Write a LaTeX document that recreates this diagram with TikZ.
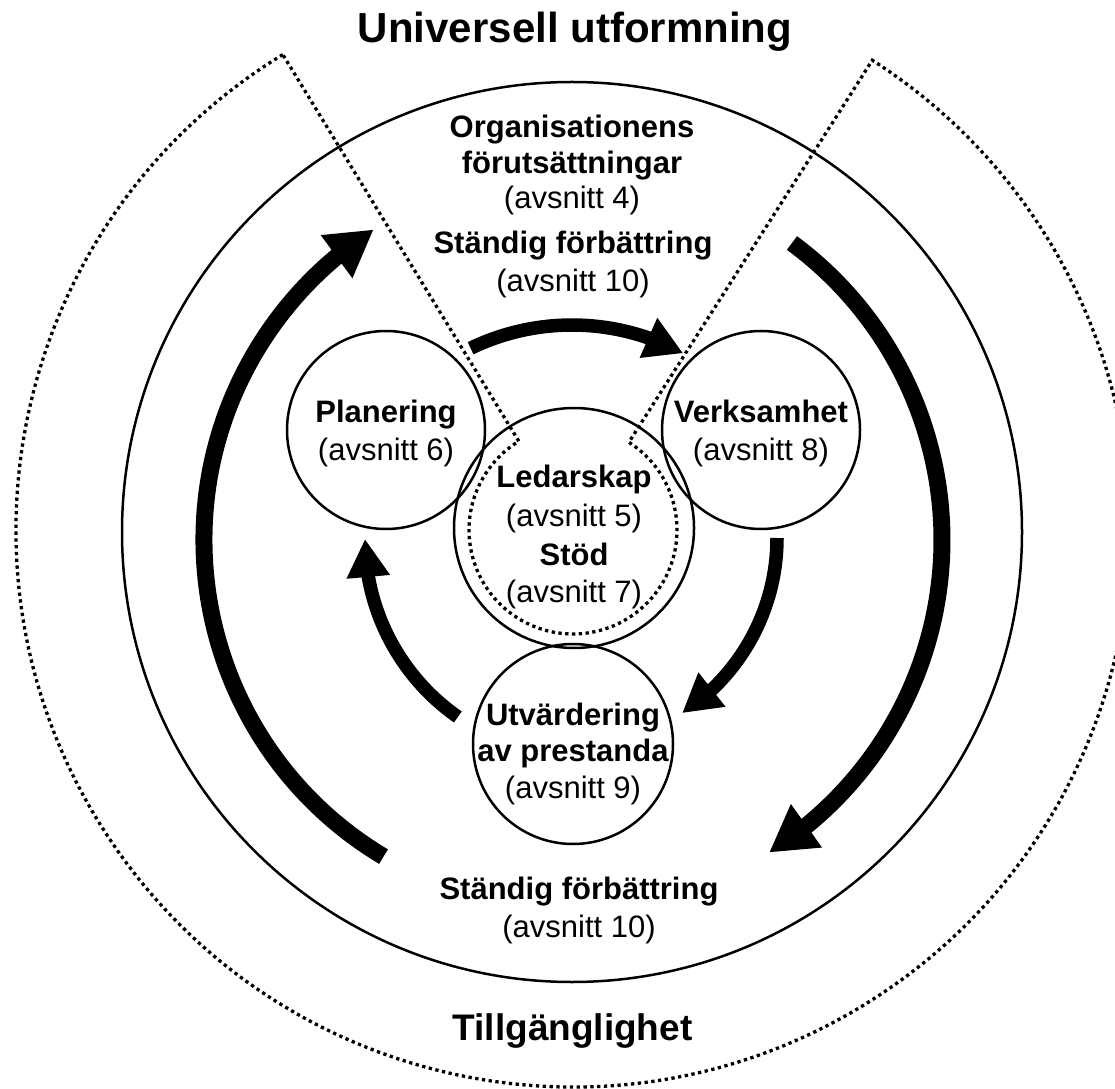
\documentclass[tikz,border=0pt]{standalone}
\usepackage{fontspec}
\setmainfont{Liberation Sans}
\usetikzlibrary{arrows.meta,bending}
\begin{document}
\begin{tikzpicture}[x=1pt,y=1pt,
  ring/.style={circle,draw,line width=2.5pt,inner sep=0pt},
  dotline/.style={line width=3.3pt,dash pattern=on 3.3pt off 3.5pt},
  bigarrow/.style={line width=17pt,-{Triangle[length=46pt,width=50pt]}},
  smallarrow/.style={line width=13.5pt,-{Triangle[length=38pt,width=41pt]}},
  boldtxt/.style={font=\fontsize{31}{37}\selectfont\bfseries,inner sep=0pt,anchor=base},
  regtxt/.style={font=\fontsize{31}{37}\selectfont,inner sep=0pt,anchor=base},
  headtxt/.style={font=\fontsize{42}{50}\selectfont\bfseries,inner sep=0pt,anchor=base},
]
\useasboundingbox (0,0) rectangle (1115,1088);
\clip (0,0) rectangle (1115,1088);
\fill[white] (0,0) rectangle (1115,1088);

% dotted outer sector shape
\coordinate (c) at (573,558);
\draw[dotline] ([shift={(121.4:557pt)}]c) arc[start angle=121.4,end angle=417.5,radius=557pt]
  -- ([shift={(57.5:104pt)}]c) arc[start angle=57.5,end angle=-238.6,radius=104pt] -- cycle;

% circles
\node[ring,minimum size=900pt] (org) at (572,556) {};
\node[ring,minimum size=198pt] (plan) at (386,658) {};
\node[ring,minimum size=198pt] (verk) at (761,658) {};
\node[ring,minimum size=240pt] (led) at (574,560) {};
\node[ring,minimum size=200pt] (utv) at (573,344) {};

% arrows
\draw[smallarrow] ([shift={(115.8:233pt)}]572,530) arc[start angle=115.8,end angle=61.5,radius=233pt];
\draw[smallarrow] ([shift={(0:209pt)}]568,550) arc[start angle=0,end angle=-56.9,radius=209pt];
\draw[smallarrow] ([shift={(235.1:217pt)}]582,549) arc[start angle=235.1,end angle=180,radius=217pt];
\draw[bigarrow] ([shift={(239.1:369pt)}]573,548) arc[start angle=239.1,end angle=122.7,radius=369pt];
\draw[bigarrow] ([shift={(53.6:369pt)}]573,548) arc[start angle=53.6,end angle=-57.9,radius=369pt];

% texts
\node[headtxt] (title) at (575,1045) {Universell utformning};
\node[headtxt,font=\fontsize{37}{44}\selectfont\bfseries] (tillg) at (572.5,48) {Tillgänglighet};

\node[boldtxt] (t1) at (572,950) {Organisationens};
\node[boldtxt] (t2) at (572,914) {förutsättningar};
\node[regtxt] (t3) at (572,879) {(avsnitt 4)};
\node[boldtxt] (t4) at (573,834) {Ständig förbättring};
\node[regtxt] (t5) at (573,796) {(avsnitt 10)};

\node[boldtxt] (p1) at (386,665) {Planering};
\node[regtxt] (p2) at (386,627) {(avsnitt 6)};
\node[boldtxt] (v1) at (761,665) {Verksamhet};
\node[regtxt] (v2) at (761,627) {(avsnitt 8)};

\node[boldtxt] (l1) at (574,600) {Ledarskap};
\node[regtxt] (l2) at (574,561) {(avsnitt 5)};
\node[boldtxt] (l3) at (574,523) {Stöd};
\node[regtxt] (l4) at (574,486) {(avsnitt 7)};

\node[boldtxt] (u1) at (573,363) {Utvärdering};
\node[boldtxt] (u2) at (573,327) {av prestanda};
\node[regtxt] (u3) at (573,290) {(avsnitt 9)};

\node[boldtxt] (b1) at (579,189) {Ständig förbättring};
\node[regtxt] (b2) at (579,151) {(avsnitt 10)};
\end{tikzpicture}
\end{document}
